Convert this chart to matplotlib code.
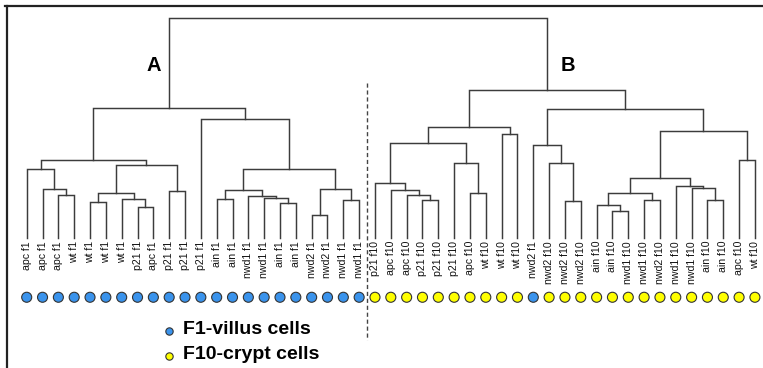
import matplotlib
matplotlib.use("Agg")
import matplotlib.pyplot as plt
from matplotlib.lines import Line2D

# === DATA ===
leaf_labels = [
    "apc f1", "apc f1", "apc f1", "wt f1", "wt f1", "wt f1", "wt f1", "p21 f1",
    "apc f1", "p21 f1", "p21 f1", "p21 f1", "ain f1", "ain f1", "nwd1 f1", "nwd1 f1",
    "ain f1", "ain f1", "nwd2 f1", "nwd2 f1", "nwd1 f1", "nwd1 f1",
    "p21 f10", "apc f10", "apc f10", "p21 f10", "p21 f10", "p21 f10", "apc f10",
    "wt f10", "wt f10", "wt f10", "nwd2 f1", "nwd2 f10", "nwd2 f10", "nwd2 f10",
    "ain f10", "ain f10", "nwd1 f10", "nwd1 f10", "nwd2 f10", "nwd1 f10", "nwd1 f10",
    "ain f10", "ain f10", "apc f10", "wt f10",
]

# linkage (scipy style): new cluster ids start at len(leaf_labels)
merge_left = [2, 1, 0, 4, 7, 6, 50, 9, 53, 49,
              12, 16, 15, 14, 57, 18, 20, 62, 61, 11, 56,
              25, 24, 23, 22, 28, 27, 71, 30, 74,
              34, 33, 32, 37, 36, 39, 81, 43, 42, 41, 83, 45, 87, 79, 76, 67]
merge_right = [3, 47, 48, 5, 8, 51, 52, 10, 54, 55,
               13, 17, 58, 59, 60, 19, 21, 63, 64, 65, 66,
               26, 68, 69, 70, 29, 72, 73, 31, 75,
               35, 77, 78, 38, 80, 40, 82, 44, 84, 85, 86, 46, 88, 89, 90, 91]
merge_height = [0.199, 0.226, 0.314, 0.165, 0.142, 0.177, 0.206, 0.214, 0.335, 0.358,
                0.177, 0.162, 0.185, 0.191, 0.221, 0.108, 0.173, 0.226, 0.317, 0.544, 0.594,
                0.176, 0.195, 0.218, 0.251, 0.208, 0.340, 0.433, 0.473, 0.506,
                0.170, 0.340, 0.423, 0.123, 0.153, 0.176, 0.206, 0.173, 0.229, 0.236, 0.274,
                0.358, 0.486, 0.586, 0.676, 0.999]

cluster_names = ["A", "B"]
legend_labels = ["F1-villus cells", "F10-crypt cells"]
BLUE = "#3a93ec"
YELLOW = "#ffff00"
LINE = "#3c3c3c"

# === FIGURE ===
fig = plt.figure(figsize=(7.63, 3.68), dpi=100)
ax = fig.add_axes([0, 0, 1, 1])
ax.set_xlim(-1.687, 46.51)
ax.set_ylim(-0.5895, 1.083)
ax.axis("off")

# === DENDROGRAM ===
n = len(leaf_labels)
xpos = {i: float(i) for i in range(n)}
hpos = {i: 0.0 for i in range(n)}
for k, (a, b, h) in enumerate(zip(merge_left, merge_right, merge_height)):
    node = n + k
    xa, xb = xpos[a], xpos[b]
    ax.plot([xa, xa, xb, xb], [hpos[a], h, h, hpos[b]], color=LINE, lw=1.05,
            solid_joinstyle="miter")
    xpos[node] = (xa + xb) / 2
    hpos[node] = h

# A / B markers
ax.text(0.2015, 0.8226, cluster_names[0], transform=ax.transAxes, ha="center", va="center",
        fontsize=14.5, fontweight="bold", family="Liberation Sans")
ax.text(0.7444, 0.8226, cluster_names[1], transform=ax.transAxes, ha="center", va="center",
        fontsize=14.5, fontweight="bold", family="Liberation Sans")

# === LEAF LABELS + DOTS ===
for i, lab in enumerate(leaf_labels):
    ax.text(i, -0.012, lab, rotation=90, ha="center", va="top", fontsize=7.6,
            family="Liberation Sans", color="#111111")

dot_colors = [BLUE if lab.endswith(" f1") else YELLOW for lab in leaf_labels]
ax.scatter(range(n), [-0.268] * n, s=52, c=dot_colors, edgecolors="#333333",
           linewidths=0.8, zorder=3)

# divider between the two groups
n_f1 = 22
ax.plot([n_f1 - 0.5, n_f1 - 0.5], [0.706, -0.462], color="#444444", lw=1.0,
        linestyle=(0, (3, 2)))

# === LEGEND ===
for yy, ty, col, lab in [(0.1019, 0.1033, BLUE, legend_labels[0]),
                         (0.0313, 0.0380, YELLOW, legend_labels[1])]:
    ax.scatter([0.2215], [yy], s=28, c=col, edgecolors="#333333", linewidths=0.8,
               transform=ax.transAxes, zorder=3)
    ax.text(0.2395, ty, lab, transform=ax.transAxes, ha="left", va="center",
            fontsize=14, fontweight="bold", family="Liberation Sans")

# === FRAME (top and left edges only) ===
fig.add_artist(Line2D([5 / 763, 1.0], [1 - 6 / 368, 1 - 6 / 368], color="#222222", lw=1.6,
                      transform=fig.transFigure))
fig.add_artist(Line2D([7 / 763, 7 / 763], [1 - 6 / 368, 0.0], color="#222222", lw=1.6,
                      transform=fig.transFigure))

fig.savefig("out.png", dpi=100)
